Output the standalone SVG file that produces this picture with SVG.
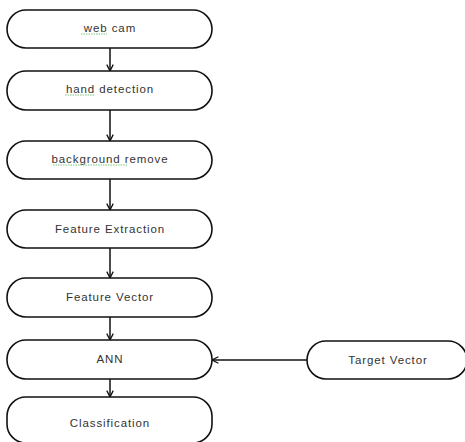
<svg xmlns="http://www.w3.org/2000/svg" width="465" height="442" viewBox="0 0 465 442">
<style>
.n{fill:#fff;stroke:#111;stroke-width:1.6}
.t{font-family:"Liberation Sans",Arial,sans-serif;font-size:11.5px;letter-spacing:0.9px;fill:#333;text-anchor:middle;dominant-baseline:central}
.c{stroke:#111;stroke-width:1.5;fill:none;marker-end:url(#a)}
.sq{stroke:#7cc47c;stroke-width:1;fill:none;stroke-dasharray:1.5 1}
</style>
<defs>
<marker id="a" viewBox="0 0 10 10" refX="9" refY="5" markerWidth="8" markerHeight="8" markerUnits="userSpaceOnUse" orient="auto">
<path d="M1,1 L9,5 L1,9" fill="none" stroke="#111" stroke-width="1.6"/>
</marker>
</defs>
<rect width="465" height="442" fill="#fff"/>
<g id="connectors">
<line class="c" x1="110" y1="48" x2="110" y2="71"/>
<line class="c" x1="110" y1="110" x2="110" y2="141"/>
<line class="c" x1="110" y1="179" x2="110" y2="210"/>
<line class="c" x1="110" y1="248" x2="110" y2="278"/>
<line class="c" x1="110" y1="317" x2="110" y2="340"/>
<line class="c" x1="110" y1="379" x2="110" y2="397"/>
<line class="c" x1="307" y1="360" x2="212" y2="360"/>
</g>
<g id="webcam">
<rect class="n" x="7" y="10" width="205" height="38" rx="19"/>
<text class="t" x="110" y="28">web cam</text>
<path class="sq" d="M81,34 H107"/>
</g>
<g id="handdetection">
<rect class="n" x="7" y="71" width="205" height="39" rx="19"/>
<text class="t" x="110" y="89">hand detection</text>
<path class="sq" d="M65,95 H95"/>
</g>
<g id="backgroundremove">
<rect class="n" x="7" y="141" width="205" height="38" rx="19"/>
<text class="t" x="110" y="159">background remove</text>
<path class="sq" d="M53,165 H127"/>
</g>
<g id="featureextraction">
<rect class="n" x="7" y="210" width="205" height="38" rx="19"/>
<text class="t" x="110" y="229">Feature Extraction</text>
</g>
<g id="featurevector">
<rect class="n" x="7" y="278" width="205" height="39" rx="19"/>
<text class="t" x="110" y="297">Feature Vector</text>
</g>
<g id="ann">
<rect class="n" x="7" y="340" width="205" height="39" rx="19"/>
<text class="t" x="110" y="359">ANN</text>
</g>
<g id="classification">
<rect class="n" x="7" y="397" width="205" height="46" rx="19"/>
<text class="t" x="110" y="423">Classification</text>
</g>
<g id="targetvector">
<rect class="n" x="307" y="341" width="160" height="38" rx="19"/>
<text class="t" x="388" y="360">Target Vector</text>
</g>
</svg>
